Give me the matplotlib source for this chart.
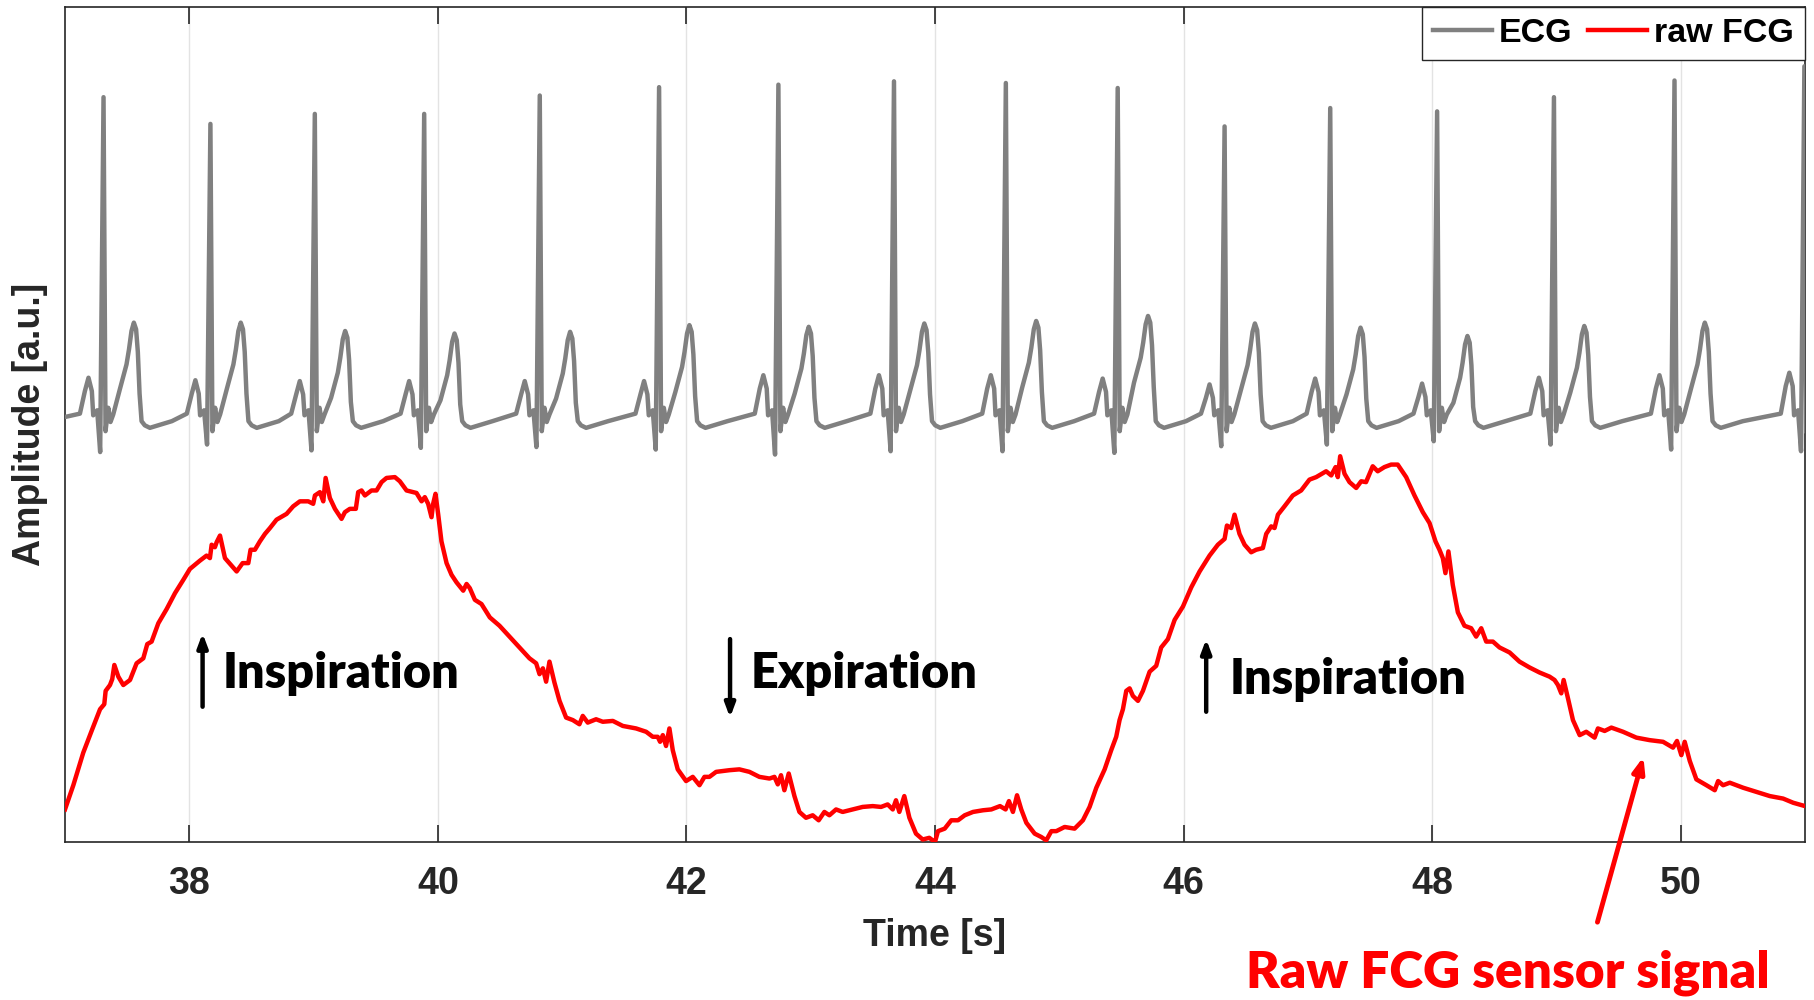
import matplotlib
matplotlib.use('Agg')
import matplotlib.pyplot as plt
from matplotlib.lines import Line2D

plt.rcParams['font.family'] = ['Liberation Sans', 'DejaVu Sans']

# ---- data (time in s, amplitude in a.u., 0..100 axis) ----
# ECG: one entry per heart beat
r_times = [37.31, 38.17, 39.01, 39.89, 40.82, 41.78, 42.74, 43.67,
           44.57, 45.47, 46.33, 47.18, 48.04, 48.98, 49.95, 50.995]
r_amp = [89.2, 86.0, 87.2, 87.2, 89.4, 90.4, 90.7, 91.1,
         90.9, 90.3, 85.7, 87.9, 87.5, 89.2, 91.2, 92.9]
s_amp = [46.7, 47.6, 46.9, 47.2, 47.3, 47.0, 46.4, 46.8,
         46.8, 46.6, 47.4, 47.6, 48.0, 47.6, 47.0, 46.8]
p_amp = [55.6, 55.3, 55.2, 55.2, 55.2, 55.2, 55.9, 55.9,
         55.9, 55.5, 54.8, 55.5, 54.9, 55.6, 55.9, 56.2]
t_amp = [62.2, 62.2, 61.2, 60.9, 61.1, 61.9, 61.7, 62.1,
         62.4, 63.0, 62.1, 61.6, 60.6, 61.8, 62.2]

# beat shape around the R peak (offset in s, level, which wave it belongs to)
beat_offsets = [-0.19, -0.15, -0.121, -0.094, -0.083, -0.051, -0.027, 0.0,
                0.016, 0.038, 0.056, 0.078, 0.131, 0.185, 0.205, 0.225, 0.244,
                0.262, 0.276, 0.29, 0.306, 0.332, 0.373, 0.55]
beat_levels = [51.3, -1.6, 0.0, -1.6, 51.1, 51.7, 0.0, 0.0,
               49.2, 52.0, 50.3, 51.2, -8.0, -5.0, -3.2, -1.0, 0.0,
               -0.8, -3.5, -8.5, 50.4, 49.9, 49.6, 50.4]
beat_kind = ['', 'P', 'P', 'P', '', '', 'S', 'R',
             '', '', '', '', 'T', 'T', 'T', 'T', 'T',
             'T', 'T', 'T', '', '', '', '']
ecg_start = (37.0, 50.9)

# raw FCG sensor signal
fcg_time = [37.000, 37.067, 37.147, 37.214, 37.282, 37.316, 37.327, 37.362, 37.380, 37.397,
            37.429, 37.469, 37.523, 37.576, 37.630, 37.662, 37.697, 37.751, 37.818, 37.885,
            37.952, 38.005, 38.086, 38.139, 38.166, 38.180, 38.206, 38.220, 38.247, 38.287,
            38.340, 38.381, 38.429, 38.475, 38.493, 38.528, 38.568, 38.609, 38.649, 38.702,
            38.783, 38.836, 38.890, 38.957, 38.997, 39.011, 39.051, 39.078, 39.097, 39.131,
            39.172, 39.225, 39.252, 39.292, 39.340, 39.359, 39.386, 39.413, 39.466, 39.507,
            39.547, 39.587, 39.654, 39.694, 39.748, 39.828, 39.869, 39.895, 39.922, 39.949,
            39.962, 39.981, 40.003, 40.029, 40.070, 40.110, 40.150, 40.204, 40.231, 40.257,
            40.298, 40.351, 40.418, 40.496, 40.576, 40.657, 40.737, 40.791, 40.818, 40.845,
            40.871, 40.898, 40.938, 40.979, 41.032, 41.086, 41.139, 41.166, 41.206, 41.273,
            41.327, 41.408, 41.488, 41.595, 41.676, 41.729, 41.769, 41.788, 41.810, 41.836,
            41.863, 41.890, 41.930, 41.997, 42.051, 42.105, 42.145, 42.185, 42.239, 42.346,
            42.426, 42.507, 42.587, 42.668, 42.708, 42.735, 42.761, 42.788, 42.823, 42.869,
            42.909, 42.962, 43.016, 43.064, 43.110, 43.150, 43.204, 43.257, 43.338, 43.418,
            43.499, 43.566, 43.619, 43.660, 43.686, 43.713, 43.753, 43.794, 43.847, 43.901,
            43.954, 44.000, 44.024, 44.078, 44.131, 44.185, 44.239, 44.306, 44.386, 44.453,
            44.523, 44.568, 44.595, 44.627, 44.660, 44.694, 44.735, 44.802, 44.855, 44.895,
            44.936, 44.976, 45.043, 45.123, 45.190, 45.244, 45.298, 45.365, 45.418, 45.458,
            45.485, 45.512, 45.539, 45.566, 45.592, 45.633, 45.673, 45.727, 45.780, 45.820,
            45.874, 45.928, 45.995, 46.062, 46.129, 46.209, 46.276, 46.330, 46.349, 46.383,
            46.410, 46.450, 46.491, 46.544, 46.584, 46.638, 46.665, 46.705, 46.732, 46.759,
            46.812, 46.879, 46.946, 47.013, 47.067, 47.147, 47.188, 47.223, 47.241, 47.260,
            47.295, 47.335, 47.389, 47.429, 47.468, 47.522, 47.562, 47.616, 47.670, 47.723,
            47.791, 47.858, 47.925, 47.979, 48.027, 48.059, 48.086, 48.107, 48.131, 48.166,
            48.207, 48.260, 48.314, 48.354, 48.395, 48.435, 48.489, 48.542, 48.623, 48.703,
            48.784, 48.864, 48.945, 48.985, 49.012, 49.039, 49.058, 49.093, 49.133, 49.187,
            49.240, 49.307, 49.334, 49.388, 49.442, 49.536, 49.643, 49.750, 49.858, 49.938,
            49.970, 50.005, 50.032, 50.073, 50.126, 50.207, 50.274, 50.301, 50.341, 50.395,
            50.502, 50.609, 50.717, 50.824, 50.905, 51.000]
fcg_amp = [3.9, 6.8, 10.7, 13.3, 15.9, 16.5, 18.1, 18.8, 19.5, 21.2,
           19.8, 18.8, 19.4, 21.4, 22.0, 23.7, 24.0, 26.2, 27.9, 29.8,
           31.4, 32.7, 33.7, 34.3, 34.0, 35.6, 35.3, 35.9, 36.7, 34.0,
           33.1, 32.4, 33.4, 33.4, 35.0, 35.0, 36.0, 36.9, 37.6, 38.6,
           39.3, 40.2, 40.8, 40.8, 40.5, 41.5, 41.9, 40.8, 43.6, 41.2,
           39.9, 38.7, 39.5, 39.9, 39.9, 41.9, 42.1, 41.5, 42.1, 42.1,
           43.1, 43.6, 43.7, 43.2, 42.1, 41.8, 40.8, 41.3, 40.5, 38.9,
           40.5, 41.7, 39.2, 36.0, 33.4, 32.0, 31.1, 30.1, 30.9, 30.4,
           29.0, 28.5, 26.9, 25.9, 24.6, 23.3, 22.0, 21.4, 20.1, 20.8,
           19.2, 21.6, 19.1, 16.9, 14.9, 14.6, 14.1, 15.1, 14.3, 14.7,
           14.4, 14.5, 13.9, 13.6, 13.2, 12.6, 12.6, 12.0, 12.8, 11.5,
           13.6, 11.0, 8.7, 7.3, 7.8, 6.8, 7.8, 7.8, 8.4, 8.6,
           8.7, 8.4, 7.8, 7.6, 7.8, 6.9, 8.0, 6.2, 8.2, 5.5,
           3.6, 2.9, 3.2, 2.6, 3.6, 3.2, 3.9, 3.6, 3.9, 4.2,
           4.3, 4.2, 4.5, 3.9, 5.0, 3.6, 5.5, 2.9, 1.0, 0.3,
           0.5, 0.0, 1.3, 1.6, 2.6, 2.6, 3.2, 3.6, 3.8, 3.9,
           4.3, 3.9, 4.9, 3.6, 5.6, 3.9, 2.3, 1.0, 0.6, 0.2,
           1.3, 1.3, 1.8, 1.6, 2.6, 4.2, 6.5, 8.7, 11.0, 12.6,
           14.6, 15.9, 18.1, 18.4, 17.5, 16.9, 18.1, 20.4, 21.1, 23.3,
           24.3, 26.6, 28.2, 30.5, 32.4, 34.3, 35.6, 36.3, 37.9, 37.6,
           39.2, 36.9, 35.6, 34.7, 35.0, 35.2, 36.9, 37.8, 37.6, 39.2,
           40.2, 41.5, 42.1, 43.4, 43.7, 44.4, 43.9, 44.9, 43.7, 46.2,
           44.1, 43.1, 42.4, 43.2, 43.1, 45.0, 44.4, 44.9, 45.2, 45.2,
           43.7, 41.5, 39.5, 38.2, 36.0, 35.0, 34.0, 32.2, 34.8, 30.8,
           27.5, 25.9, 25.6, 24.6, 25.6, 24.0, 24.0, 23.3, 22.7, 21.6,
           20.9, 20.3, 19.8, 19.4, 18.8, 17.8, 19.4, 17.2, 14.6, 12.8,
           13.2, 12.5, 13.6, 13.3, 13.7, 13.2, 12.5, 12.2, 12.0, 11.3,
           12.1, 10.4, 12.0, 9.7, 7.5, 6.8, 6.2, 7.3, 6.8, 7.1,
           6.5, 6.0, 5.5, 5.2, 4.7, 4.3]

x_ticks = [38, 40, 42, 44, 46, 48, 50]

# annotations: (label, arrow x, arrow start y, arrow end y, text x, text baseline y)
phases = [('Inspiration', 38.107, 16.2, 25.0, 38.27, 18.4),
          ('Expiration', 42.351, 24.3, 14.9, 42.52, 18.4),
          ('Inspiration', 46.182, 15.6, 24.3, 46.37, 17.7)]

# ---- build ECG trace from the beats ----
ecg_t = [ecg_start[0]]
ecg_a = [ecg_start[1]]
waves = {'P': p_amp, 'S': s_amp, 'R': r_amp, 'T': t_amp}
for i, r in enumerate(r_times):
    for off, lev, kind in zip(beat_offsets, beat_levels, beat_kind):
        if i >= len(t_amp) and off > 0.02:
            break
        if kind == '':
            val = lev
        else:
            val = waves[kind][i] + lev
        ecg_t.append(r + off)
        ecg_a.append(val)

ink = '#262626'
fig = plt.figure(figsize=(18.14, 10), dpi=100)
ax = fig.add_axes([65 / 1814, 1 - 842 / 1000, 1740 / 1814, 835 / 1000])

ax.plot(ecg_t, ecg_a, color='#808080', lw=3.2, solid_joinstyle='round', zorder=3)
ax.plot(fcg_time, fcg_amp, color='#ff0000', lw=3.2, solid_joinstyle='round', zorder=3)

ax.set_xlim(37, 51)
ax.set_ylim(0, 100)
ax.set_xticks(x_ticks)
ax.set_yticks([])
ax.grid(axis='x', color='#e3e3e3', lw=1.0)
ax.set_axisbelow(True)
ax.tick_params(axis='x', direction='in', length=12.5, width=1.2, top=True,
               colors=ink, labelsize=27, pad=17)
for lab in ax.get_xticklabels():
    lab.set_fontweight('bold')
for sp in ax.spines.values():
    sp.set_color(ink)
    sp.set_linewidth(1.2)

ax.set_xlabel('Time [s]', fontsize=27, fontweight='bold', color=ink, labelpad=12)
ax.set_ylabel('Amplitude [a.u.]', fontsize=27, fontweight='bold', color=ink, labelpad=12)

handles = [Line2D([], [], color='#808080', lw=3.2), Line2D([], [], color='#ff0000', lw=3.2)]
leg = ax.legend(handles, ['ECG', 'raw FCG'], loc='upper right', ncol=2, frameon=True,
                fancybox=False, edgecolor=ink, framealpha=1, borderaxespad=0,
                handlelength=1.75, handletextpad=0.2, columnspacing=0.45, borderpad=0.32,
                prop={'weight': 'bold', 'size': 24.5})
leg.get_frame().set_linewidth(1.0)

for label, ax_x, y0, y1, tx, ty in phases:
    ax.annotate('', xy=(ax_x, y1), xytext=(ax_x, y0),
                arrowprops=dict(arrowstyle='-|>,head_length=0.8,head_width=0.3',
                                color='black', lw=3.2, shrinkA=0, shrinkB=0))
    ax.text(tx, ty, label, fontsize=35, fontweight='heavy', family=['Lato', 'DejaVu Sans'],
            color='black', va='baseline', ha='left')

ax.annotate('', xy=(49.70, 10.2), xytext=(49.33, -9.6), annotation_clip=False,
            arrowprops=dict(arrowstyle='-|>,head_length=0.9,head_width=0.35',
                            color='#ff0000', lw=3.5, shrinkA=0, shrinkB=0))
fig.text(1246 / 1814, 1 - 988 / 1000, 'Raw FCG sensor signal', color='#ff0000',
         fontsize=37, fontweight='heavy', family=['Lato', 'DejaVu Sans'],
         va='baseline', ha='left')

fig.savefig('out.png', dpi=100)
